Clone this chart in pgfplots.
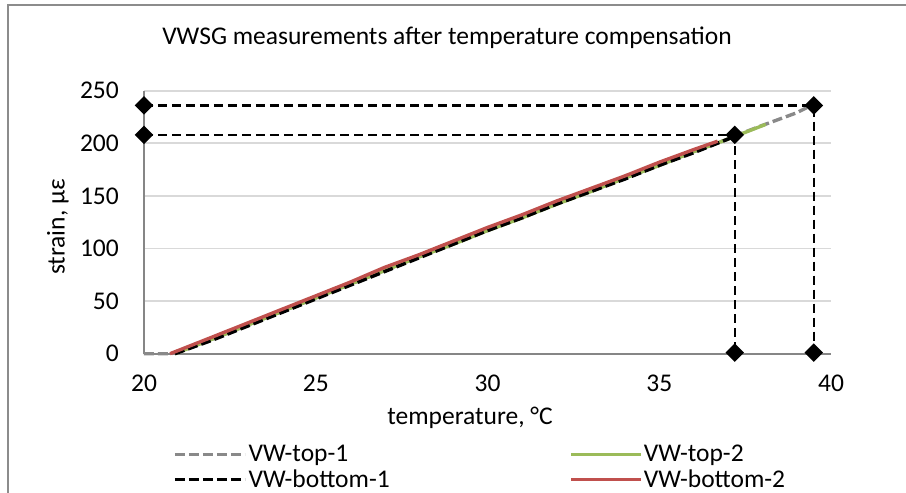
\documentclass[border=0pt]{standalone}
\usepackage{fontspec}
\setmainfont{Carlito}
\usepackage{pgfplots}
\pgfplotsset{compat=1.18}
\definecolor{xlgray}{HTML}{898989}
\definecolor{xlgreen}{HTML}{9BBB59}
\definecolor{xlred}{HTML}{C0504D}
\definecolor{xlgrid}{HTML}{D9D9D9}
\definecolor{xlaxis}{HTML}{868686}
\definecolor{xlframe}{HTML}{8C8C8C}
\begin{document}
\begin{tikzpicture}[font=\fontsize{25.5bp}{30bp}\selectfont]
\useasboundingbox (-144bp,-139.3bp) rectangle (762bp,353.7bp);
\draw[xlframe, line width=2bp] (-136bp,-200bp) -- (-136bp,348.7bp) -- (950bp,348.7bp);
\begin{axis}[
  at={(0,0)}, anchor=south west,
  scale only axis, width=687bp, height=263bp,
  xmin=20, xmax=40, ymin=0, ymax=250,
  xtick={20,25,...,40}, ytick={0,50,...,250},
  axis x line*=bottom, axis y line*=left,
  axis line style={xlaxis, line width=2bp, -},
  major tick length=0pt,
  ymajorgrids, major grid style={xlgrid, line width=1.8bp},
  /pgf/number format/assume math mode=true,
  yticklabel style={anchor=east, inner sep=0pt, xshift=-25bp},
  xticklabel style={anchor=north, inner sep=0pt, yshift=-21bp},
  title={VWSG measurements after temperature compensation},
  title style={at={(rel axis cs:0.441,0)}, anchor=base, yshift=303bp, inner sep=0pt},
  xlabel={temperature, °C},
  xlabel style={at={(rel axis cs:0.4745,0)}, anchor=base, yshift=-71bp, inner sep=0pt},
  ylabel={strain, με},
  ylabel style={at={(axis description cs:-0.1252,0.4818)}, anchor=center, rotate=0, inner sep=0pt},
  clip=false,
  legend columns=2,
  legend style={at={(29bp,-91.5bp)}, anchor=north west, draw=none, fill=none, inner sep=0pt,
     nodes={inner sep=0pt}, row sep=6.5bp, cells={anchor=west}},
  legend image code/.code={\draw[#1] (0bp,0bp) -- (70bp,0bp);},
]
% VW-top-1
\addplot[xlgray, line width=3.4bp, dash pattern=on 10bp off 4bp] coordinates {
(20,0) (20.8,0) (22,14) (23,27) (24,40) (25,53) (26,66) (27,79) (28,92) (29,105)
(30,117) (31,130) (32,142) (33,155) (34,167) (35,179) (36,192) (37,204) (37.2,207)
(38,217) (39,229) (39.3,234)};
\addlegendentry{\makebox[323bp][l]{\hspace{2bp}VW-top-1}}
% VW-top-2
\addplot[xlgreen, line width=3.4bp] coordinates {
(20.9,0) (22,14) (23,27) (24,40) (25,53) (26,66) (27,79) (28,92) (29,104)
(30,117) (31,129) (32,142) (33,154) (34,167) (35,179) (36,192) (37,204) (38.1,218)};
\addlegendentry{\hspace{1bp}VW-top-2}
% VW-bottom-1
\addplot[black, line width=3.4bp, dash pattern=on 10bp off 4bp] coordinates {
(20.9,0) (22,13) (23,26) (24,39) (25,52) (26,65) (27,78) (28,91) (29,104)
(30,117) (31,129) (32,142) (33,154) (34,166) (35,179) (36,191) (37,204) (37.2,207)};
\addlegendentry{\makebox[323bp][l]{\hspace{2bp}VW-bottom-1}}
% VW-bottom-2
\addplot[xlred, line width=3.4bp] coordinates {
(20.76,0) (22,16) (23,29) (24,42) (25,55) (26,68) (27,82) (28,94) (29,107)
(30,120) (31,132) (32,145) (33,157) (34,169) (35,182) (36,194) (36.7,202)};
\addlegendentry{\hspace{1bp}VW-bottom-2}
% reference lines
\addplot[forget plot, black, line width=2.5bp, dash pattern=on 9bp off 5bp,
  mark=square*, mark size=5.3bp, mark options={solid, rotate=45}] coordinates {
(20,236) (39.5,236) (39.5,1)};
\addplot[forget plot, black, line width=2.5bp, dash pattern=on 9bp off 5bp,
  mark=square*, mark size=5.3bp, mark options={solid, rotate=45}] coordinates {
(20,208) (37.2,208) (37.2,1)};
\end{axis}
\end{tikzpicture}
\end{document}
